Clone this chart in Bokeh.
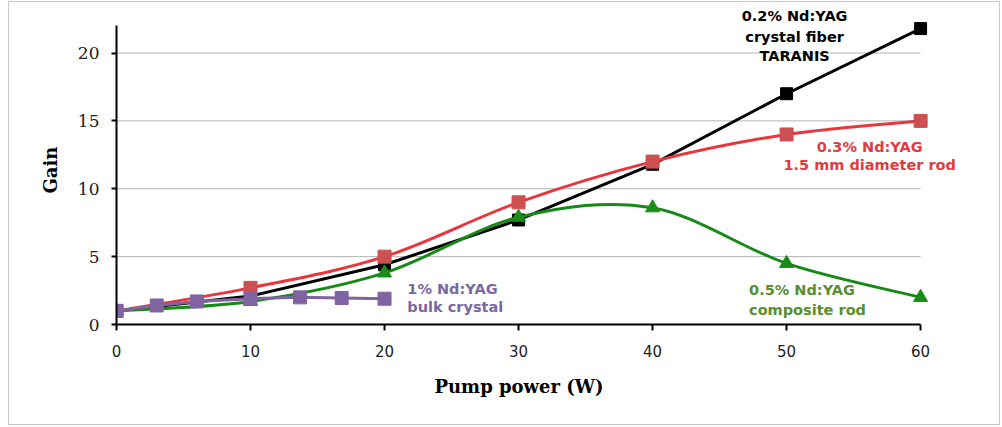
from bokeh.plotting import figure
from bokeh.models import Label, SingleIntervalTicker, Range1d, ColumnDataSource, Title
from bokeh.embed import file_html
from bokeh.resources import INLINE

# ---- data ----
pump_main = [0, 10, 20, 30, 40, 50, 60]
gain_fiber = [1.0, 2.1, 4.4, 7.7, 11.8, 17.0, 21.8]      # 0.2% Nd:YAG crystal fiber TARANIS
gain_rod03 = [1.0, 2.7, 5.0, 9.0, 12.0, 14.0, 15.0]      # 0.3% Nd:YAG 1.5 mm rod
gain_rod05 = [1.0, 1.7, 3.8, 7.9, 8.6, 4.5, 2.0]         # 0.5% Nd:YAG composite rod
pump_bulk = [0, 3, 6, 10, 13.7, 16.8, 20]
gain_bulk = [1.0, 1.4, 1.7, 1.9, 2.0, 1.95, 1.9]         # 1% Nd:YAG bulk crystal

x_axis_bounds = (0, 60)
y_axis_bounds = (0, 22)
grid_levels = [5, 10, 15, 20]
x_ticks_step = 10
y_ticks_step = 5

BLACK = "#000000"
RED_LINE = "#e8363c"
RED_MARK = "#cc5050"
RED_TEXT = "#e03c40"
GREEN_LINE = "#168a16"
GREEN_MARK = "#1a8c1a"
GREEN_TEXT = "#58902f"
PURPLE = "#8064a2"
PURPLE_TEXT = "#7868a4"


def smooth_segments(xs, ys):
    """Excel-like smoothed line: cubic Bezier segments through the data points."""
    n = len(xs)
    d = dict(x0=[], y0=[], x1=[], y1=[], cx0=[], cy0=[], cx1=[], cy1=[])
    for i in range(n - 1):
        xp, yp = (xs[i - 1], ys[i - 1]) if i > 0 else (xs[i], ys[i])
        xn, yn = (xs[i + 2], ys[i + 2]) if i + 2 < n else (xs[i + 1], ys[i + 1])
        d["x0"].append(xs[i]); d["y0"].append(ys[i])
        d["x1"].append(xs[i + 1]); d["y1"].append(ys[i + 1])
        d["cx0"].append(xs[i] + (xs[i + 1] - xp) / 6.0)
        d["cy0"].append(ys[i] + (ys[i + 1] - yp) / 6.0)
        d["cx1"].append(xs[i + 1] - (xn - xs[i]) / 6.0)
        d["cy1"].append(ys[i + 1] - (yn - ys[i]) / 6.0)
    return ColumnDataSource(d)


p = figure(width=992, height=424, output_backend="svg", toolbar_location=None,
           x_range=Range1d(0, 63.5), y_range=Range1d(0, 23.5),
           min_border_left=107, min_border_right=34, min_border_top=3,
           min_border_bottom=102)
p.margin = (1, 0, 0, 8)
p.styles = {"border": "1px solid #c8c8c8"}
p.outline_line_color = None
p.background_fill_color = "white"
p.border_fill_color = "white"

# grid (limited to the axis extent, as in the reference)
p.xgrid.grid_line_color = None
p.ygrid.grid_line_color = None
p.segment(x0=x_axis_bounds[0], x1=x_axis_bounds[1], y0=grid_levels, y1=grid_levels,
          line_color="#b4b4b4", line_width=1)

# axes
p.xaxis.ticker = SingleIntervalTicker(interval=x_ticks_step, num_minor_ticks=0)
p.yaxis.ticker = SingleIntervalTicker(interval=y_ticks_step, num_minor_ticks=0)
p.xaxis.bounds = x_axis_bounds
p.yaxis.bounds = y_axis_bounds
for ax in (p.xaxis[0], p.yaxis[0]):
    ax.axis_line_color = "black"
    ax.axis_line_width = 2
    ax.major_tick_line_color = "black"
    ax.major_tick_line_width = 2
    ax.major_tick_in = 0
    ax.minor_tick_line_color = None
    ax.major_label_text_color = "#222222"

p.xaxis.major_tick_out = 6
p.yaxis.major_tick_out = 5
p.xaxis.major_label_text_font = "DejaVu Sans"
p.xaxis.major_label_text_font_size = "15px"
p.xaxis.major_label_standoff = 14
p.yaxis.major_label_text_font = "DejaVu Serif"
p.yaxis.major_label_text_font_size = "17px"
p.yaxis.major_label_standoff = 12

# small spacers between the axes and their titles
p.add_layout(Title(text=" ", text_font_size="4px", standoff=0), "below")
p.add_layout(Title(text=" ", text_font_size="4px", standoff=0), "left")

# axis titles placed like the reference (centred on the 0-60 / 0-22 axis extent)
x_title = Title(text="Pump power (W)", align="left", offset=318, standoff=14,
                text_font="DejaVu Serif", text_font_style="bold", text_font_size="18px",
                text_color="black")
p.add_layout(x_title, "below")
y_title = Title(text="Gain", align="left", offset=131, standoff=14,
                text_font="DejaVu Serif", text_font_style="bold", text_font_size="18px",
                text_color="black")
p.add_layout(y_title, "left")

# 0.2% crystal fiber (black, straight segments)
p.line(pump_main, gain_fiber, line_color=BLACK, line_width=3, line_join="round")
p.scatter(pump_main, gain_fiber, marker="square", size=12, fill_color=BLACK, line_color=BLACK)

# 0.5% composite rod (green, smoothed)
p.bezier(x0="x0", y0="y0", x1="x1", y1="y1", cx0="cx0", cy0="cy0", cx1="cx1", cy1="cy1",
         source=smooth_segments(pump_main, gain_rod05), line_color=GREEN_LINE, line_width=3)
p.scatter(pump_main, gain_rod05, marker="triangle", size=14, fill_color=GREEN_MARK, line_color=GREEN_MARK)

# 0.3% rod (red, smoothed)
p.bezier(x0="x0", y0="y0", x1="x1", y1="y1", cx0="cx0", cy0="cy0", cx1="cx1", cy1="cy1",
         source=smooth_segments(pump_main, gain_rod03), line_color=RED_LINE, line_width=3)
p.scatter(pump_main, gain_rod03, marker="square", size=13, fill_color=RED_MARK, line_color=RED_MARK)

# 1% bulk crystal (purple)
p.line(pump_bulk, gain_bulk, line_color=PURPLE, line_width=3, line_join="round")
p.scatter(pump_bulk, gain_bulk, marker="square", size=13, fill_color=PURPLE, line_color=PURPLE)

# annotations
ann_fiber = ["0.2% Nd:YAG", "crystal fiber", "TARANIS"]
ann_rod03 = ["0.3% Nd:YAG", "1.5 mm diameter rod"]
ann_rod05 = ["0.5% Nd:YAG", "composite rod"]
ann_bulk = ["1% Nd:YAG", "bulk crystal"]


def add_lines(lines, x, ys, color, align):
    for t, y in zip(lines, ys):
        p.add_layout(Label(x=x, y=y, text=t, text_align=align, text_baseline="middle",
                           text_font="DejaVu Sans", text_font_style="bold",
                           text_font_size="14.5px", text_color=color))


add_lines(ann_fiber, 50.6, [22.7, 21.2, 19.75], BLACK, "center")
add_lines(ann_rod03, 56.2, [13.1, 11.75], RED_TEXT, "center")
add_lines(ann_rod05, 47.2, [2.55, 1.1], GREEN_TEXT, "left")
add_lines(ann_bulk, 21.7, [2.6, 1.3], PURPLE_TEXT, "left")

open("out.html", "w").write(file_html(p, INLINE))
